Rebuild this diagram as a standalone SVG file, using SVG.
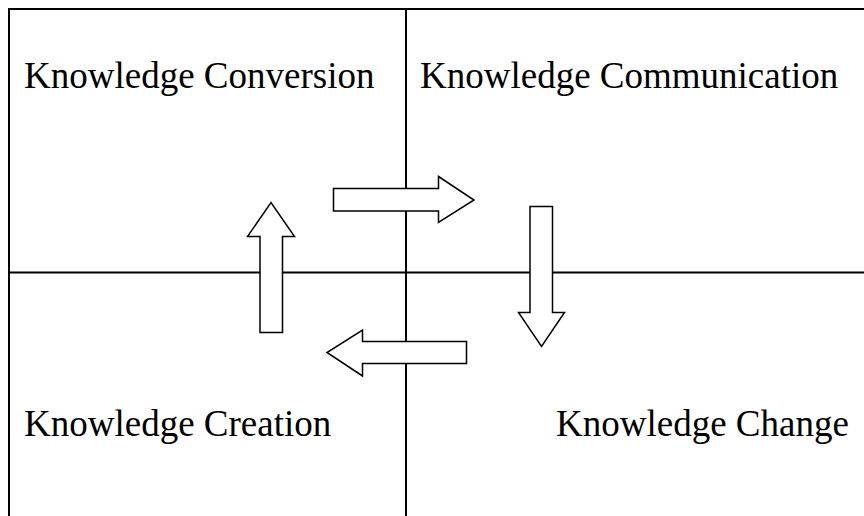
<svg xmlns="http://www.w3.org/2000/svg" width="864" height="516" viewBox="0 0 864 516">
<style>
.grid{stroke:#000;stroke-width:2;fill:none}
.arrow{fill:#fff;stroke:#000;stroke-width:1.5;stroke-linejoin:miter}
.lbl{font-family:"Liberation Serif","Times New Roman",serif;font-size:37px;fill:#000}
</style>
<rect width="864" height="516" fill="#fff"/>
<g id="grid">
<line class="grid" x1="9" y1="9" x2="864" y2="9"/>
<line class="grid" x1="9" y1="8" x2="9" y2="516"/>
<line class="grid" x1="406" y1="9" x2="406" y2="516"/>
<line class="grid" x1="9" y1="272.5" x2="864" y2="272.5"/>
</g>
<g id="node-conversion"><text class="lbl" x="24" y="87.5">Knowledge Conversion</text></g>
<g id="node-communication"><text class="lbl" x="420" y="87.5">Knowledge Communication</text></g>
<g id="node-creation"><text class="lbl" x="24" y="435.5">Knowledge Creation</text></g>
<g id="node-change"><text class="lbl" x="556" y="435.5">Knowledge Change</text></g>
<g id="connectors">
<polygon class="arrow" points="333.5,188.5 438.5,188.5 438.5,176.5 474,200 438.5,222.5 438.5,211 333.5,211"/>
<polygon class="arrow" points="530,206.5 552.5,206.5 552.5,312.5 564.5,312.5 541.5,346.5 518.5,312.5 530,312.5"/>
<polygon class="arrow" points="466.5,341.5 466.5,363.5 362.5,363.5 362.5,376 327,352.5 362.5,330 362.5,341.5"/>
<polygon class="arrow" points="260,332.5 260,236.5 247.5,236.5 271,202.5 294.5,236.5 282.5,236.5 282.5,332.5"/>
</g>
</svg>
